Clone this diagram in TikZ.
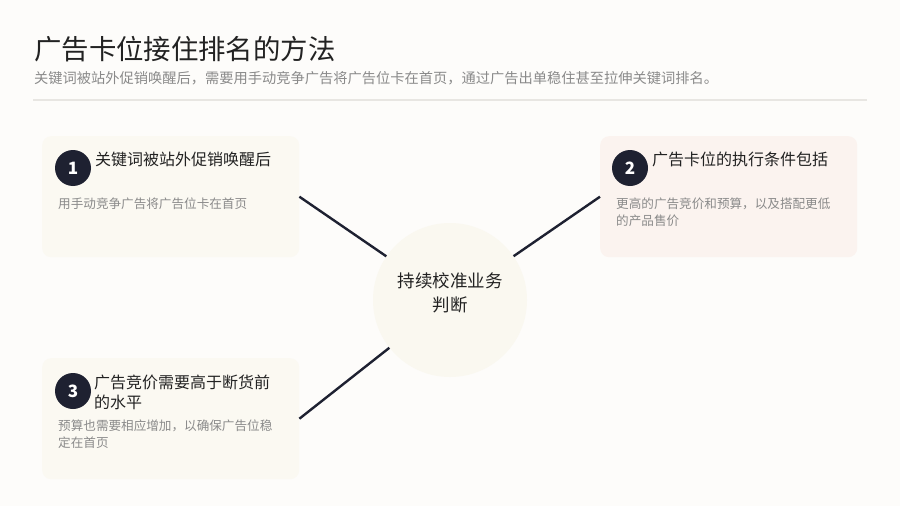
\documentclass[tikz,border=0pt]{standalone}
\usepackage{fontspec}
\setmainfont{Noto Sans CJK SC}
\usetikzlibrary{positioning,calc}
\definecolor{pagebg}{HTML}{FDFCFA}
\definecolor{cardcream}{HTML}{FBF9F2}
\definecolor{cardrose}{HTML}{FBF3EF}
\definecolor{hubfill}{HTML}{FAF8F0}
\definecolor{navy}{HTML}{1E2131}
\definecolor{inkdark}{HTML}{222222}
\definecolor{inkgray}{HTML}{8A8A8A}
\definecolor{rulegray}{HTML}{E8E6E2}

\begin{document}
\begin{tikzpicture}[
    x=1pt, y=-1pt,
    card/.style={rectangle, rounded corners=9pt, anchor=north west, minimum width=257pt, minimum height=121pt, inner sep=0pt},
    badge/.style={circle, fill=navy, text=white, minimum size=36pt, inner sep=0pt, font=\bfseries\fontsize{17}{17}\selectfont},
    heading/.style={anchor=north west, inner sep=0pt, align=left, text=inkdark, font=\fontsize{16}{20}\selectfont},
    detail/.style={anchor=north west, inner sep=0pt, align=left, text=inkgray, font=\fontsize{12.6}{17}\selectfont},
    hub/.style={circle, fill=hubfill, minimum size=154pt, inner sep=0pt},
    hublabel/.style={align=center, inner sep=0pt, text=inkdark, font=\fontsize{17.5}{24}\selectfont},
    link/.style={draw=navy, line width=2.4pt}
]
    \fill[pagebg] (0,0) rectangle (900,506);
    \useasboundingbox (0,0) rectangle (900,506);

    % header
    \node[anchor=north west, inner sep=0pt, text=inkdark, font=\fontsize{27.4}{32}\selectfont] (title) at (34,36) {广告卡位接住排名的方法};
    \node[anchor=north west, inner sep=0pt, text=inkgray, font=\fontsize{14.25}{17}\selectfont] (subtitle) at (34,71) {关键词被站外促销唤醒后，需要用手动竞争广告将广告位卡在首页，通过广告出单稳住甚至拉伸关键词排名。};
    \draw[rulegray, line width=1.5pt] (33,100) -- (867,100);

    % cards
    \node[card, fill=cardcream] (card1) at (42,136) {};
    \node[card, fill=cardrose] (card2) at (600,136) {};
    \node[card, fill=cardcream] (card3) at (42,358) {};

    \node[badge] (badge1) at (73,168) {1};
    \node[badge] (badge2) at (630,168) {2};
    \node[badge] (badge3) at (73,391) {3};

    \node[heading] (head1) at (95,152) {关键词被站外促销唤醒后};
    \node[detail] (text1) at (58,198) {用手动竞争广告将广告位卡在首页};

    \node[heading] (head2) at (652,152) {广告卡位的执行条件包括};
    \node[detail] (text2) at (616,198) {更高的广告竞价和预算，以及搭配更低\\的产品售价};

    \node[heading] (head3) at (94,375) {广告竞价需要高于断货前\\的水平};
    \node[detail] (text3) at (58,420) {预算也需要相应增加，以确保广告位稳\\定在首页};

    % hub
    \node[hub] (hub) at (450,300) {};
    \node[hublabel] (hubtext) at (450,293) {持续校准业务\\判断};

    \draw[link] (card1.east) -- (hub);
    \draw[link] (card2.west) -- (hub);
    \draw[link] (card3.east) -- (hub);
\end{tikzpicture}
\end{document}
